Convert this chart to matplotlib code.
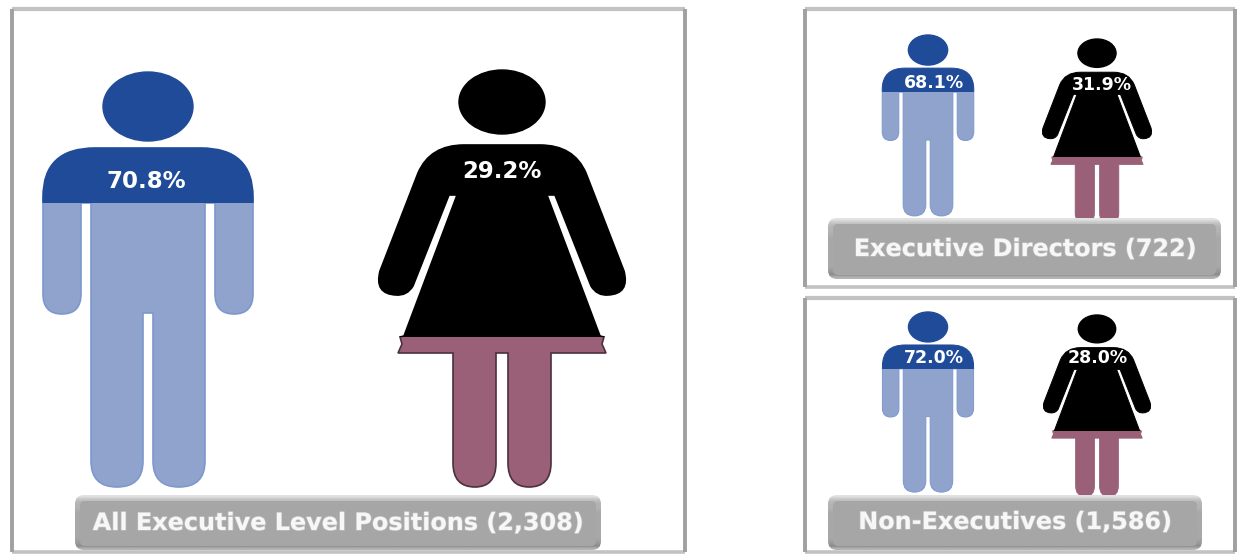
# -*- coding:utf-8 -*-
import numpy as np
import matplotlib
matplotlib.use('Agg')
import matplotlib.pyplot as plt
from matplotlib.patches import Ellipse, FancyBboxPatch, PathPatch, Rectangle
from matplotlib.path import Path
import matplotlib.patheffects as pe

# values
panel_names = ['All Executive Level Positions (2,308)', 'Executive Directors (722)', 'Non-Executives (1,586)']
men_pct = [70.8, 68.1, 72.0]
women_pct = [29.2, 31.9, 28.0]
# how far down each figure the dark part goes
men_dark = [0.316, 0.315, 0.317]
women_dark = [0.64, 0.64, 0.64]

# layout in pixels
frames = [(12, 9, 673, 543), (805, 9, 430, 278), (805, 298, 430, 254)]
buttons = [(75, 495, 526, 55), (828, 218, 393, 61), (828, 495, 374, 55)]
button_text = [(338, 523, 17.2), (1025, 249, 17.2), (1015, 522, 17.2)]
man_pos = [(148, 72, 1.0), (928, 35, 0.436), (928, 312, 0.434)]
woman_pos = [(502, 70, 1.0), (1097, 39, 0.443), (1097, 315, 0.435)]
man_text = [(146, 181, 16.5), (934, 83, 12.5), (934, 358, 12.5)]
woman_text = [(502, 171, 16.5), (1102, 85, 12.5), (1098, 358, 12.5)]

BLUE = '#1f4b99'
LIGHT_BLUE = '#8fa3cd'
MAUVE = '#9a6077'
FONT = 'DejaVu Sans'

M, L, C = Path.MOVETO, Path.LINETO, Path.CURVE3


def mirrored(half):
    # half outline from top centre to crotch centre, other side is the same flipped
    pts = [p[:2] for p in half]
    codes = [p[2] for p in half]
    verts = pts + [(-x, y) for x, y in pts[-2::-1]]
    all_codes = codes + codes[:0:-1]
    verts.append(pts[0])
    all_codes.append(Path.CLOSEPOLY)
    return np.array(verts, dtype=float), all_codes


man_half = [
    (0, 76, M), (-53, 76, L), (-105, 76, C), (-105, 125, C),
    (-105, 222, L), (-105, 242, C), (-86, 242, C), (-67, 242, C), (-67, 222, C),
    (-67, 131, L), (-57, 131, L),
    (-57, 389, L), (-57, 415, C), (-31, 415, C), (-5, 415, C), (-5, 389, C),
    (-5, 241, L), (0, 241, L),
]
woman_half = [
    (0, 75, M), (-38, 75, L), (-72, 75, C), (-84, 103, C),
    (-122, 201, L), (-128, 224, C), (-106, 225, C), (-95, 226, C), (-89, 216, C),
    (-53, 125, L), (-45, 125, L), (-98, 266, L), (-102, 267, L), (-100, 274, L), (-104, 283, L),
    (-49, 283, L), (-49, 393, L), (-49, 417, C), (-27, 417, C), (-6, 417, C), (-6, 393, C),
    (-6, 283, L), (0, 283, L),
]
man_head = (0, 34.5, 45, 34.5)
woman_head = (0, 32, 43, 32)
man_height = 415
woman_height = 417


def draw_person(ax, half, head, height, pos, dark_frac, dark, light, edge):
    cx, top, s = pos
    verts, codes = mirrored(half)
    verts = verts * s + [cx, top]
    split = top + height * s * dark_frac

    # body is drawn twice, clipped above and below the split
    for col, ec, y0, y1 in [(light, edge, split, top + height * s + 2), (dark, dark, top - 2, split)]:
        patch = PathPatch(Path(verts, codes), facecolor=col, edgecolor=ec, lw=1.2 * max(s, 0.6), zorder=3)
        ax.add_patch(patch)
        clip = Rectangle((cx - 200, y0), 400, y1 - y0, transform=ax.transData)
        patch.set_clip_path(clip)

    hx, hy, rx, ry = head
    ax.add_patch(Ellipse((cx + hx * s, top + hy * s), 2 * rx * s, 2 * ry * s, color=dark, zorder=3))


def draw_button(ax, box, name, txt):
    x, y, w, h = box
    r = 9
    outer = FancyBboxPatch((x + r, y + r), w - 2 * r, h - 2 * r, boxstyle='round,pad=%d,rounding_size=%d' % (r, r),
                           facecolor='none', edgecolor='none', zorder=5)
    ax.add_patch(outer)
    grad = np.array([[0.88], [0.78], [0.72], [0.70], [0.70], [0.68], [0.66], [0.66], [0.66], [0.66], [0.66], [0.66],
                     [0.66], [0.66], [0.66], [0.66], [0.64], [0.60], [0.55], [0.70]])
    im = ax.imshow(grad, cmap='gray', vmin=0, vmax=1, extent=(x, x + w, y + h, y), aspect='auto',
                   interpolation='bilinear', zorder=5)
    im.set_clip_path(outer)
    # flat face inside the bevel
    ax.add_patch(FancyBboxPatch((x + 10, y + 11), w - 20, h - 20, boxstyle='round,pad=5,rounding_size=5',
                                facecolor='#a6a6a6', edgecolor='none', zorder=5.5))
    t = ax.text(txt[0], txt[1], name, color='#f7f7f7', fontsize=txt[2], fontweight='bold', family=FONT,
                ha='center', va='center', zorder=6)
    t.set_path_effects([pe.withStroke(linewidth=1.0, foreground='#bdbdbd')])


def draw_frame(ax, box):
    x, y, w, h = box
    ax.add_patch(Rectangle((x, y), w, h, facecolor='white', edgecolor='none', zorder=1))
    ax.plot([x, x + w], [y, y], color='#c2c2c2', lw=3, solid_capstyle='butt', zorder=1.5)
    ax.plot([x, x + w], [y + h, y + h], color='#c2c2c2', lw=2.6, solid_capstyle='butt', zorder=1.5)
    ax.plot([x, x], [y, y + h], color='#a0a0a0', lw=2.8, solid_capstyle='butt', zorder=1.6)
    ax.plot([x + w, x + w], [y, y + h], color='#a0a0a0', lw=2.8, solid_capstyle='butt', zorder=1.6)


def main():
    fig = plt.figure(figsize=(12.37, 5.54), dpi=100)
    ax = fig.add_axes([0, 0, 1, 1])
    ax.set_axis_off()

    for i in range(3):
        draw_frame(ax, frames[i])

        draw_person(ax, man_half, man_head, man_height, man_pos[i], men_dark[i], BLUE, LIGHT_BLUE, '#7d98cc')
        woman_edge = '#4a3040' if i == 0 else MAUVE
        draw_person(ax, woman_half, woman_head, woman_height, woman_pos[i], women_dark[i], 'black', MAUVE, woman_edge)

        for pct, pos in [(men_pct[i], man_text[i]), (women_pct[i], woman_text[i])]:
            ax.text(pos[0], pos[1], '%.1f%%' % pct, color='white', fontsize=pos[2], fontweight='bold',
                    family=FONT, ha='center', va='center', zorder=4)

        draw_button(ax, buttons[i], panel_names[i], button_text[i])

    ax.set_xlim(0, 1237)
    ax.set_ylim(554, 0)
    fig.savefig('out.png', dpi=100)


if __name__ == '__main__':
    main()
